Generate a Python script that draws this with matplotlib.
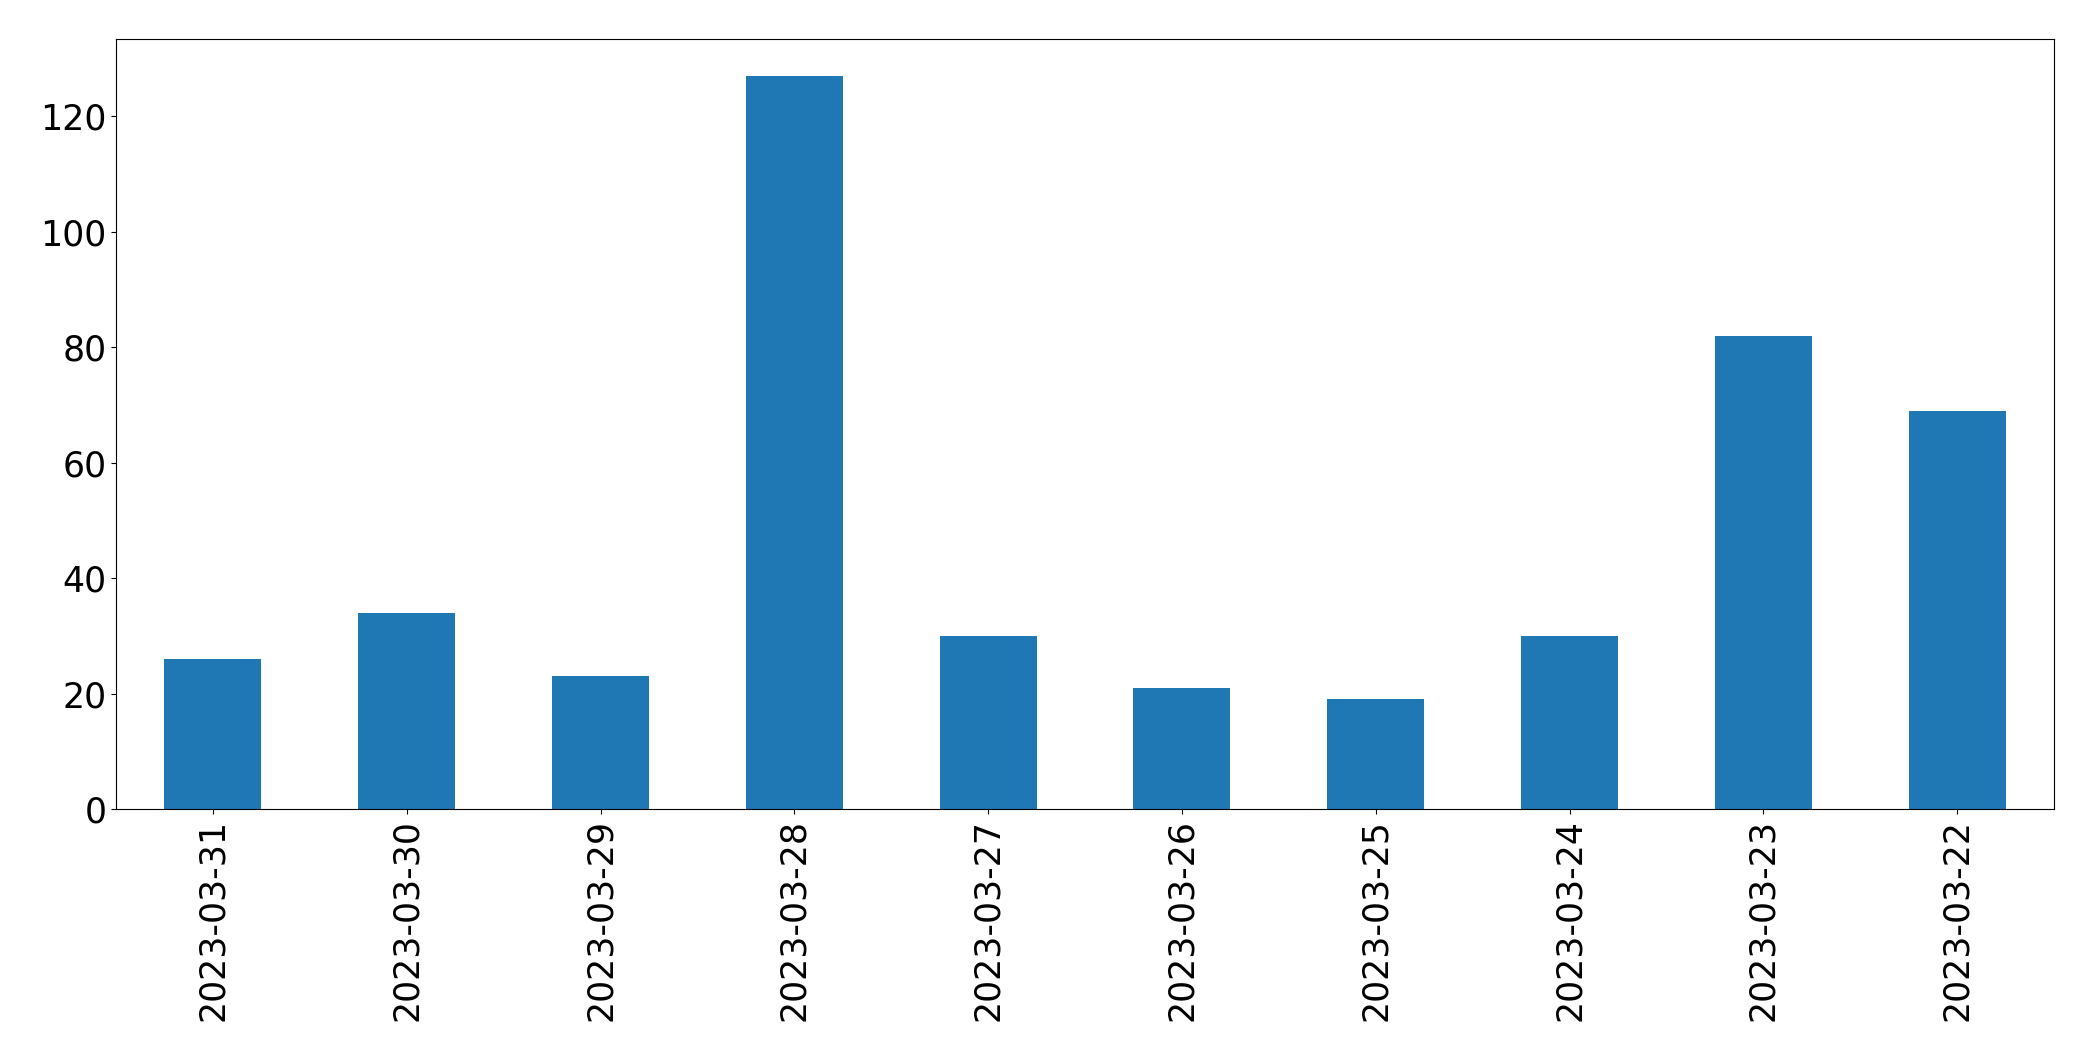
import pandas as pd
from matplotlib import pyplot as plt

dates = ['2023-03-31', '2023-03-30', '2023-03-29', '2023-03-28', '2023-03-27',
         '2023-03-26', '2023-03-25', '2023-03-24', '2023-03-23', '2023-03-22']
counts = [26, 34, 23, 127, 30, 21, 19, 30, 82, 69]

s = pd.Series(counts, index=dates)

fig, ax = plt.subplots(figsize=(20.93, 10.61), dpi=100)
s.plot(kind='bar', ax=ax, color='#1f77b4')
ax.tick_params(labelsize=25)
plt.subplots_adjust(left=116 / 2093, right=2054 / 2093, top=1 - 39 / 1061, bottom=1 - 809 / 1061)
plt.savefig('out.png')
